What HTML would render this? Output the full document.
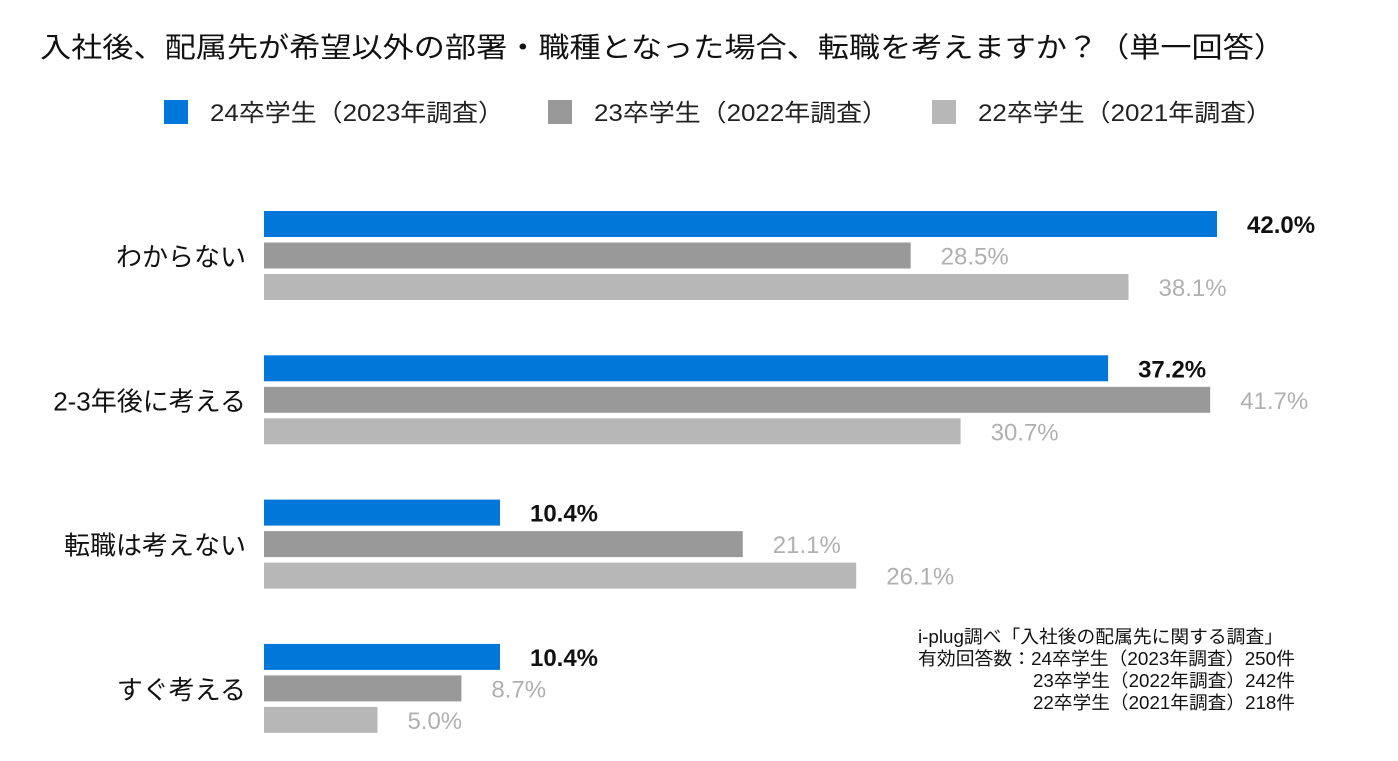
<!DOCTYPE html>
<html><head><meta charset="utf-8"><style>
body{margin:0;background:#fff;width:1398px;height:756px;overflow:hidden;font-family:"Liberation Sans","Noto Sans CJK JP",sans-serif}
</style></head><body>
<svg id="c" width="1398" height="756" xmlns="http://www.w3.org/2000/svg">
<text x="40" y="57" font-size="28" fill="#111" textLength="1245" lengthAdjust="spacingAndGlyphs">入社後、配属先が希望以外の部署・職種となった場合、転職を考えますか？（単一回答）</text>
<g id="legend"></g>
<g id="bars"></g>
<g font-size="18" fill="#111">
<text x="918" y="643" textLength="365" lengthAdjust="spacingAndGlyphs">i-plug調べ「入社後の配属先に関する調査」</text>
<text x="918" y="665" textLength="377" lengthAdjust="spacingAndGlyphs">有効回答数：24卒学生（2023年調査）250件</text>
<text x="1033" y="687" textLength="262" lengthAdjust="spacingAndGlyphs">23卒学生（2022年調査）242件</text>
<text x="1033" y="709" textLength="262" lengthAdjust="spacingAndGlyphs">22卒学生（2021年調査）218件</text>
</g>
</svg>
<script>
const categories=["わからない","2-3年後に考える","転職は考えない","すぐ考える"];
const seriesNames=["24卒学生（2023年調査）","23卒学生（2022年調査）","22卒学生（2021年調査）"];
const s2023=[42.0,37.2,10.4,10.4];
const s2022=[28.5,41.7,21.1,8.7];
const s2021=[38.1,30.7,26.1,5.0];
const series=[s2023,s2022,s2021];
const colors=["#0077d9","#999999","#b7b7b7"];
const labelColors=["#111","#b0b0b0","#b0b0b0"];
const NS="http://www.w3.org/2000/svg";
const x0=264, pxPer=(1217-264)/42;
const xs=v=>x0+v*pxPer;
const gy=i=>211+i*144.3;
const svg=document.getElementById('bars');
function mk(t,a,p){const e=document.createElementNS(NS,t);for(const k in a)e.setAttribute(k,a[k]);p.appendChild(e);return e;}
const lg=document.getElementById('legend');
const lx=[164,548,932];
seriesNames.forEach((n,i)=>{
  const r=mk('rect',{x:lx[i],y:100,width:24,height:24,fill:colors[i]},lg);
  
  
  const t=mk('text',{x:lx[i]+46,y:121,'font-size':24,fill:'#222',textLength:294,lengthAdjust:'spacingAndGlyphs'},lg);
  t.textContent=n;
  
  
});
categories.forEach((c,ci)=>{
  const y=gy(ci);
  const t=mk('text',{x:246,y:y+55,'font-size':26,fill:'#111','text-anchor':'end'},svg);
  t.textContent=c;
  
  
  series.forEach((s,si)=>{
    const by=y+si*31.5;
    const r=mk('rect',{x:x0,y:by,width:xs(s[ci])-x0,height:26,fill:colors[si]},svg);
    
    
    const l=mk('text',{x:xs(s[ci])+30,y:by+22,'font-size':24,fill:labelColors[si],'font-weight':si==0?'bold':'normal'},svg);
    l.textContent=s[ci].toFixed(1)+'%';
    
    
  });
});
</script>
</body></html>
